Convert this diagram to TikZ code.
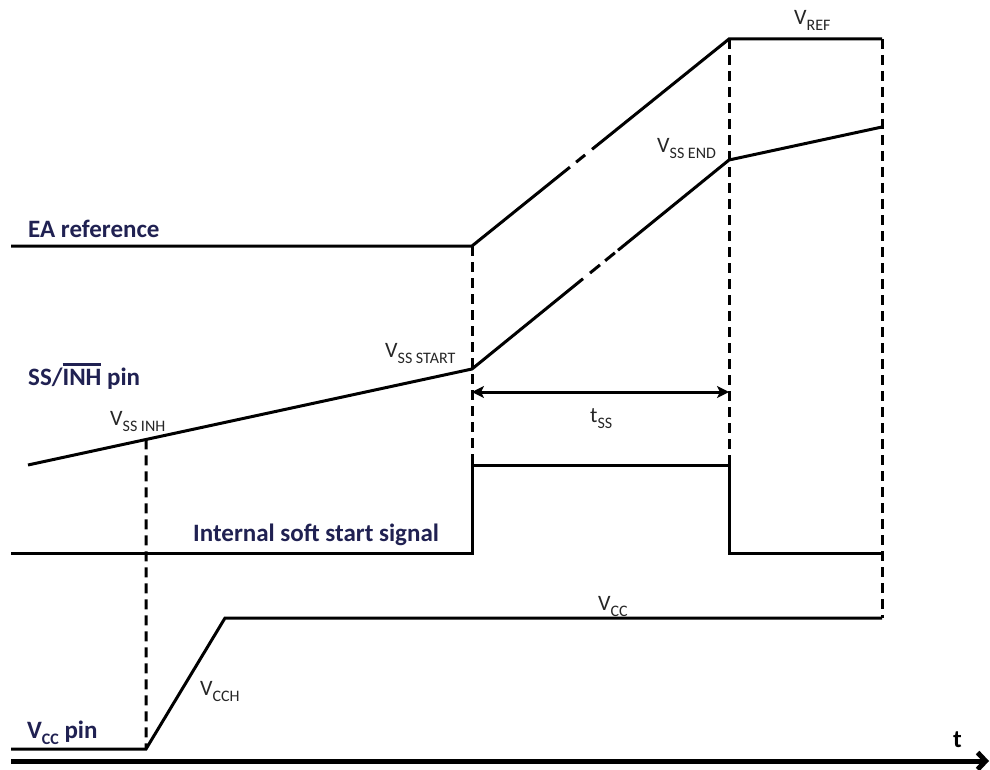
\documentclass[tikz,border=0pt]{standalone}
\usepackage{fontspec}
\setmainfont{Carlito}
\usetikzlibrary{calc,arrows.meta}
\definecolor{navy}{RGB}{32,33,82}
\newcommand{\lsub}[1]{\raisebox{-6pt}{\fontsize{16}{16}\selectfont #1}}
\newcommand{\ovl}[1]{\leavevmode\vbox{\hrule height 2.5pt \kern 3pt \hbox{#1}}}

\begin{document}
\begin{tikzpicture}[x=1pt, y=-1pt,
  wave/.style={line width=3pt},
  guide/.style={line width=3pt, dash pattern=on 10pt off 6pt},
  signame/.style={font=\fontsize{25}{29}\selectfont\bfseries, text=navy, anchor=base west, inner sep=0pt},
  level/.style={font=\fontsize{22}{26}\selectfont, text=black!85, anchor=base west, inner sep=0pt}]
  \fill[white] (0,0) rectangle (990,770);
  \useasboundingbox (0,0) rectangle (990,770);

  % corner points of the waveforms
  \coordinate (ea0) at (11,246);  \coordinate (ea1) at (472,246);
  \coordinate (ea2) at (729,39);  \coordinate (ea3) at (882,39);
  \coordinate (ss0) at (28,465);  \coordinate (ss1) at (472,369);
  \coordinate (ss2) at (729,160); \coordinate (ss3) at (882,127);
  \coordinate (ssinh) at ($(ss0)!0.2658!(ss1)$);
  \coordinate (in0) at (11,553);  \coordinate (in1) at (472,553);
  \coordinate (in2) at (472,465); \coordinate (in3) at (729,465);
  \coordinate (in4) at (729,553); \coordinate (in5) at (882,553);
  \coordinate (vc0) at (11,749);  \coordinate (vc1) at (146,749);
  \coordinate (vc2) at (225,618); \coordinate (vc3) at (882,618);
  \coordinate (ts0) at (472,392); \coordinate (ts1) at (729,392);
  \coordinate (ax0) at (11,761);  \coordinate (ax1) at (989,761);

  % waveforms
  \draw[wave] (ea0) -- (ea1) -- ($(ea1)!0.381!(ea2)$)
    ($(ea1)!0.405!(ea2)$) -- ($(ea1)!0.44!(ea2)$)
    ($(ea1)!0.467!(ea2)$) -- (ea2) -- (ea3);
  \draw[wave] (ss0) -- (ss1) -- ($(ss1)!0.432!(ss2)$)
    ($(ss1)!0.459!(ss2)$) -- ($(ss1)!0.498!(ss2)$)
    ($(ss1)!0.518!(ss2)$) -- ($(ss1)!0.556!(ss2)$)
    ($(ss1)!0.568!(ss2)$) -- (ss2) -- (ss3);
  \draw[wave] (in0) -- (in1) -- (in2) -- (in3) -- (in4) -- (in5);
  \draw[wave] (vc0) -- (vc1) -- (vc2) -- (vc3);

  % guides
  \draw[guide] (ssinh) -- (vc1);
  \draw[guide] (ea1) -- (in2);
  \draw[guide] (ea2) -- (in3);
  \draw[guide] (ea3) -- (vc3);

  \draw[wave, {Stealth[length=12pt,width=12pt,inset=3pt]}-{Stealth[length=12pt,width=12pt,inset=3pt]}] (ts0) -- (ts1);
  \draw[line width=5pt, -{Straight Barb[length=8pt,width=17pt]}] (ax0) -- (ax1);

  % signal names
  \node[signame] (earef) at (28,237) {EA reference};
  \node[signame] (sspin) at (28,385) {SS/\ovl{INH} pin};
  \node[signame] (softss) at (193,541) {Internal soft start signal};
  \node[signame] (vccpin) at (27,738) {V\lsub{CC} pin};
  \node[signame, text=black] (tlab) at (953,747) {t};

  % levels
  \node[level] (vref) at (794,25) {V\lsub{REF}};
  \node[level] (vssend) at (657,153) {V\lsub{SS END}};
  \node[level] (vssstart) at (385,357) {V\lsub{SS START}};
  \node[level] (vssinh) at (110,425) {V\lsub{SS INH}};
  \node[level] (tss) at (590,422) {t\lsub{SS}};
  \node[level] (vcc) at (598,610) {V\lsub{CC}};
  \node[level] (vcch) at (200,695) {V\lsub{CCH}};
\end{tikzpicture}
\end{document}
